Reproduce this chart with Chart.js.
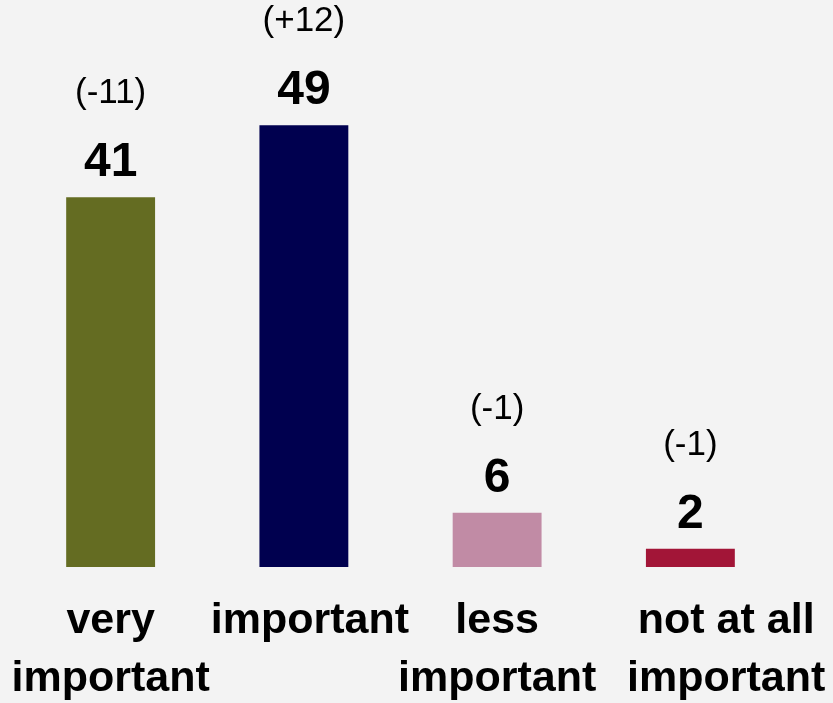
<!DOCTYPE html>
<html>
<head>
<meta charset="utf-8">
<script src="https://cdn.jsdelivr.net/npm/chart.js@4"></script>
<style>
  html, body { margin: 0; padding: 0; background: #f3f3f3; }
  #wrap { width: 833px; height: 703px; }
</style>
</head>
<body>
<div id="wrap"><canvas id="bar-chart"></canvas></div>
<script>
// leading spaces nudge a couple of labels to the right of their bar
const categories = [
  ["very", "important"],
  [" important"],
  ["less", "important"],
  ["      not at all", "      important"],
];
const shares = [41, 49, 6, 2];
const changes = ["(-11)", "(+12)", "(-1)", "(-1)"];

const barColors = ["#646c22", "#00004f", "#c18ba5", "#a21537"];
const FONT = "'Liberation Sans', Arial, sans-serif";

// paint the grey page background behind everything
const background = {
  id: "background",
  beforeDraw: (chart) => {
    const ctx = chart.ctx;
    ctx.save();
    ctx.fillStyle = "#f3f3f3";
    ctx.fillRect(0, 0, chart.width, chart.height);
    ctx.restore();
  },
};

// value in bold, change vs. last time above it
const valueLabels = {
  id: "valueLabels",
  afterDatasetsDraw: (chart) => {
    const ctx = chart.ctx;
    const meta = chart.getDatasetMeta(0);
    ctx.save();
    ctx.textAlign = "center";
    ctx.textBaseline = "alphabetic";
    ctx.fillStyle = "#000000";
    meta.data.forEach((bar, i) => {
      const base = bar.y - 21;
      ctx.font = "bold 48px " + FONT;
      ctx.fillText(String(shares[i]), bar.x, base);
      ctx.font = "35px " + FONT;
      ctx.fillText(changes[i], bar.x, base - 73);
    });
    ctx.restore();
  },
};

const myChart = new Chart("bar-chart", {
  type: "bar",
  data: {
    labels: categories,
    datasets: [
      {
        data: shares,
        backgroundColor: barColors,
        borderWidth: 0,
        categoryPercentage: 1,
        barPercentage: 0.46,
      },
    ],
  },
  options: {
    responsive: true,
    maintainAspectRatio: false,
    animation: false,
    layout: {
      padding: {
        top: 26,
        left: 14,
        right: 46,
        bottom: -5,
      },
    },
    scales: {
      y: {
        display: false,
        min: 0,
        max: 60,
      },
      x: {
        grid: {
          drawOnChartArea: false,
          color: "rgba(0,0,0,0)",
          tickLength: 25,
        },
        border: {
          display: false,
        },
        ticks: {
          padding: 0,
          color: "#000000",
          maxRotation: 0,
          autoSkip: false,
          font: {
            family: FONT,
            size: 43,
            weight: "bold",
            lineHeight: 1.35,
          },
        },
      },
    },
    plugins: {
      legend: { display: false },
      tooltip: { enabled: false },
    },
  },
  plugins: [background, valueLabels],
});
</script>
</body>
</html>
